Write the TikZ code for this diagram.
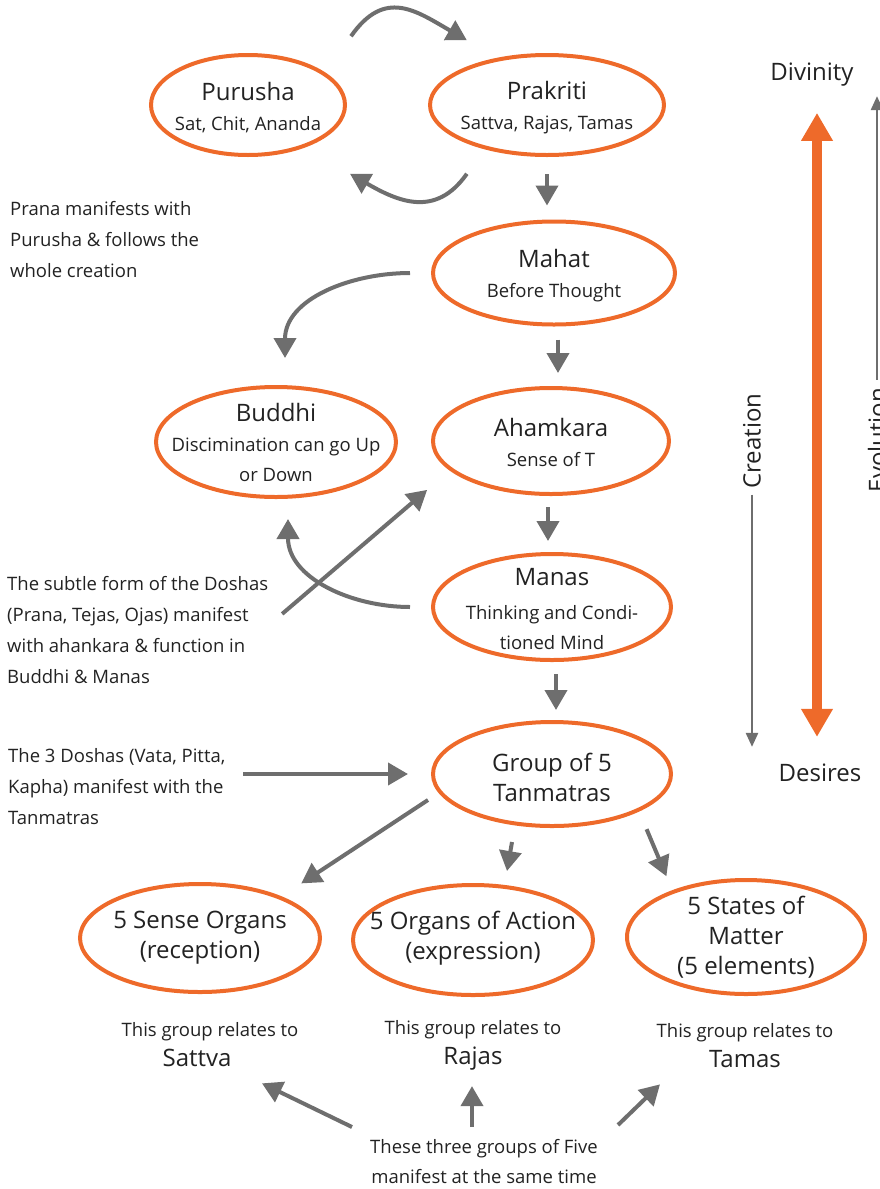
\documentclass[tikz,border=0pt]{standalone}
\usepackage{fontspec}
\setmainfont{Open Sans}
\usetikzlibrary{positioning,calc,arrows.meta,shapes.geometric}
\definecolor{vedaorange}{HTML}{EE6A2A}
\definecolor{flowgray}{HTML}{6E6E6E}
\definecolor{inkdark}{HTML}{222222}
\newcommand\stagetitle{\fontsize{24}{30}\selectfont}
\newcommand\stagesub{\fontsize{18.5}{30}\selectfont}

\begin{document}
\begin{tikzpicture}[x=1pt, y=1pt, stage/.style={ellipse, draw=vedaorange, line width=4pt, inner sep=0pt}, caption/.style={align=center, text=inkdark, inner sep=0pt, font=\stagesub}, note/.style={align=left, text=inkdark, inner sep=0pt, anchor=west, font=\fontsize{18.5}{31}\selectfont}, flow/.style={-{Triangle[length=20pt,width=22pt]}, draw=flowgray, line width=4pt}, axis/.style={-{Triangle[length=14pt,width=12pt]}, draw=flowgray, line width=2.5pt}, duality/.style={{Triangle[length=28pt,width=30pt]}-{Triangle[length=28pt,width=30pt]}, draw=vedaorange, line width=10pt}]
\useasboundingbox (0,0) rectangle (880,-1189);
\node[stage, minimum width=194pt, minimum height=100pt] (purusha) at (248,-105) {};
\node[stage, minimum width=234pt, minimum height=100pt] (prakriti) at (547,-105) {};
\node[stage, minimum width=242pt, minimum height=103pt] (mahat) at (554,-273) {};
\node[stage, minimum width=240pt, minimum height=110pt] (buddhi) at (276,-442) {};
\node[stage, minimum width=236pt, minimum height=106pt] (ahamkara) at (551,-441) {};
\node[stage, minimum width=238pt, minimum height=106pt] (manas) at (552,-607) {};
\node[stage, minimum width=238pt, minimum height=104pt] (tanmatras) at (552,-774) {};
\node[stage, minimum width=240pt, minimum height=108pt] (sense) at (200,-938) {};
\node[stage, minimum width=240pt, minimum height=110pt] (action) at (473,-940) {};
\node[stage, minimum width=238pt, minimum height=114pt] (matter) at (746,-937) {};
\node[caption] (purusha-t) at ([yshift=-3pt]purusha) {{\stagetitle Purusha}\\{\stagesub Sat, Chit, Ananda}};
\node[caption] (prakriti-t) at ([yshift=-3pt]prakriti) {{\stagetitle Prakriti}\\{\stagesub Sattva, Rajas, Tamas}};
\node[caption] (mahat-t) at ([yshift=-3pt]mahat) {{\stagetitle Mahat}\\{\stagesub Before Thought}};
\node[caption] (buddhi-t) at (buddhi) {{\stagetitle Buddhi}\\{\stagesub Discimination can go Up}\\{\stagesub or Down}};
\node[caption] (ahamkara-t) at ([yshift=-1pt]ahamkara) {{\stagetitle Ahamkara}\\{\stagesub Sense of T}};
\node[caption] (manas-t) at ([yshift=-2pt]manas) {{\stagetitle Manas}\\[4pt]{\stagesub Thinking and Condi-}\\{\stagesub tioned Mind}};
\node[caption] (tanmatras-t) at ([yshift=-3pt]tanmatras) {{\stagetitle Group of 5}\\{\stagetitle Tanmatras}};
\node[caption] (sense-t) at (sense) {{\stagetitle 5 Sense Organs}\\{\stagetitle (reception)}};
\node[caption] (action-t) at ([yshift=2pt]action) {{\stagetitle 5 Organs of Action}\\{\stagetitle (expression)}};
\node[caption] (matter-t) at (matter) {{\stagetitle 5 States of}\\{\stagetitle Matter}\\{\stagetitle (5 elements)}};
% notes on the left
\node[note] (prana) at (10,-240) {Prana manifests with\\Purusha \& follows the\\whole creation};
\node[note] (subtle) at (7,-630) {The subtle form of the Doshas\\(Prana, Tejas, Ojas) manifest\\with ahankara \& function in\\Buddhi \& Manas};
\node[note] (doshas) at (8,-787) {The 3 Doshas (Vata, Pitta,\\Kapha) manifest with the\\Tanmatras};
% relations of the three groups
\node[caption] (sattva) at (210,-1045) {{\stagesub This group relates to}\\{\stagetitle Sattva\hspace*{26pt}}};
\node[caption] (rajas) at (473,-1045) {{\stagesub This group relates to}\\{\stagetitle Rajas}};
\node[caption] (tamas) at (745,-1046) {{\stagesub This group relates to}\\{\stagetitle Tamas}};
\node[caption] (fivegroups) at (484,-1161) {{\stagesub These three groups of Five}\\{\stagesub manifest at the same time}};
% right axis
\node[caption, font=\stagetitle] (divinity) at (812,-75) {Divinity};
\node[caption, font=\stagetitle] (desires) at (820,-773) {Desires};
\node[caption, font=\stagetitle, rotate=90] (creation) at (752,-441) {Creation};
\node[caption, font=\stagetitle, rotate=90] (evolution) at (877,-440) {Evolution};
% connectors
\draw[flow] ([shift={(33pt,32pt)}]purusha.north east) to[out=55, in=150, looseness=1.3] ([shift={(4pt,28pt)}]prakriti.north west);
\draw[flow] ([shift={(4pt,-32pt)}]prakriti.south west) to[out=-125, in=-30, looseness=1.2] ([shift={(32pt,-32pt)}]purusha.south east);
\draw[flow] ([yshift=-17pt]prakriti.south) -- ([yshift=14pt]prakriti.south |- mahat.north);
\draw[flow] ([shift={(4pt,-13pt)}]mahat.south) -- ([shift={(4pt,13pt)}]mahat.south |- ahamkara.north);
\draw[flow] ([shift={(-3pt,-11pt)}]ahamkara.south) -- ([shift={(-3pt,11pt)}]ahamkara.south |- manas.north);
\draw[flow] ([shift={(4pt,-12pt)}]manas.south) -- ([shift={(4pt,10pt)}]manas.south |- tanmatras.north);
\draw[flow] ([xshift=-21pt]mahat.west) to[out=180, in=90] ([shift={(9pt,27pt)}]buddhi.north);
\draw[flow] ([xshift=-21pt]manas.west) to[out=180, in=-90] ([shift={(12pt,-20pt)}]buddhi.south);
\draw[flow] ([shift={(-184pt,-134pt)}]ahamkara.south west) -- ([shift={(-39pt,-10pt)}]ahamkara.south west);
\draw[flow] ([xshift=-188pt]tanmatras.west) -- ([xshift=-23pt]tanmatras.west);
\draw[flow] ([shift={(-3pt,-26pt)}]tanmatras.west) -- ([shift={(15pt,15pt)}]sense.north east);
\draw[flow] ([shift={(-40pt,-14pt)}]tanmatras.south) -- ([shift={(34pt,12pt)}]action.north);
\draw[flow] ([shift={(9pt,-17pt)}]tanmatras.south east) -- ([shift={(6pt,19pt)}]matter.north west);
\draw[flow] ([shift={(-132pt,34pt)}]fivegroups.center) -- ([shift={(52pt,-16pt)}]sattva.south);
\draw[flow] ([shift={(-12pt,34pt)}]fivegroups.center) -- ([shift={(-1pt,-16pt)}]rajas.south);
\draw[flow] ([shift={(134pt,36pt)}]fivegroups.center) -- ([shift={(-85pt,-16pt)}]tamas.south);
\draw[duality] ([shift={(5pt,-26pt)}]divinity.south) -- ([shift={(-3pt,27pt)}]desires.north);
\draw[axis] ([yshift=-6pt]creation.west) -- ([yshift=17pt]creation.west |- desires.north);
\draw[axis] ([yshift=8pt]evolution.east) -- ([yshift=-33pt]evolution.east |- divinity.north);
\end{tikzpicture}
\end{document}
